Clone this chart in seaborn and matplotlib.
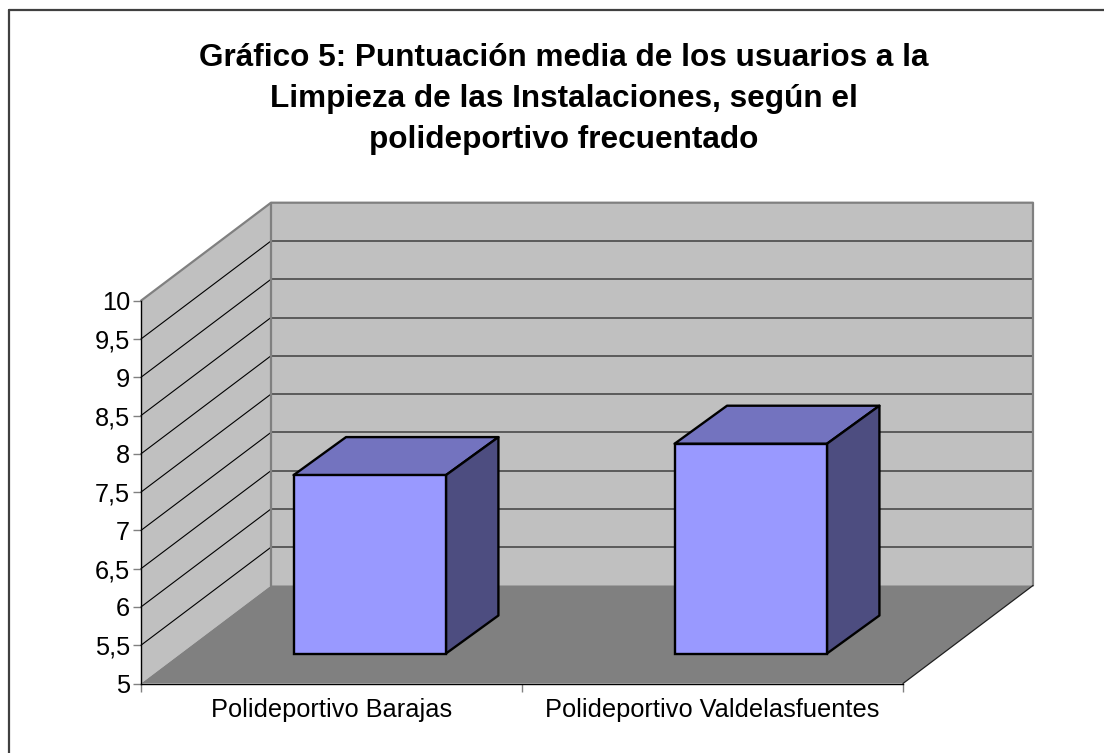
import matplotlib
matplotlib.use("Agg")
import matplotlib.pyplot as plt
from matplotlib.lines import Line2D
from matplotlib.patches import Polygon
from matplotlib.transforms import IdentityTransform, ScaledTranslation
import pandas as pd
import seaborn as sns

categories = ["Polideportivo Barajas", "Polideportivo Valdelasfuentes"]
scores = [7.33, 7.74]
y_ticks = [5, 5.5, 6, 6.5, 7, 7.5, 8, 8.5, 9, 9.5, 10]
y_labels = ["5", "5,5", "6", "6,5", "7", "7,5", "8", "8,5", "9", "9,5", "10"]
title = ("Gráfico 5: Puntuación media de los usuarios a la\n"
         "Limpieza de las Instalaciones, según el\n"
         "polideportivo frecuentado")

W, H = 1104, 753
DEPTH_X, DEPTH_Y = 130, 98  # px, how far the back wall sits from the front plane
BAR_FRONT, BAR_BACK = 0.306, 0.694  # bar position inside the depth
NUDGE = -1.5  # px, bars sit a little left of the exact centre
BACK_NUDGE = 0.5  # px, back edge of the box runs slightly further right


def main():
    sns.set_theme(style="white")
    plt.rcParams["font.family"] = ["Liberation Sans", "DejaVu Sans"]

    fig = plt.figure(figsize=(W / 100, H / 100), dpi=100)
    ax = fig.add_axes([141 / W, (H - 683.5) / H, 762 / W, 382.8 / H])
    ax.patch.set_alpha(0)

    df = pd.DataFrame({"polideportivo": categories, "score": scores})
    sns.barplot(data=df, x="polideportivo", y="score", color="#9999FF", saturation=1,
                width=0.4, edgecolor="black", linewidth=1.7, ax=ax, zorder=6)
    ax.set_xlim(-0.5, 1.5)
    ax.set_ylim(y_ticks[0], y_ticks[-1])

    # display coords of a data point pushed back by a fraction of the depth
    def px(x, y, depth=0.0, nudge=0.0):
        dx, dy = ax.transData.transform((x, y))
        return dx + depth * DEPTH_X + nudge, dy + depth * DEPTH_Y

    def poly(points, color, z, **kw):
        kw.setdefault("edgecolor", "none")
        ax.add_patch(Polygon(points, closed=True, facecolor=color, transform=IdentityTransform(),
                             clip_on=False, zorder=z, **kw))

    def line(points, color, lw, z):
        xs, ys = zip(*points)
        ax.add_line(Line2D(xs, ys, color=color, lw=lw, transform=IdentityTransform(),
                           clip_on=False, zorder=z))

    x0, x1 = ax.get_xlim()
    y0, y1 = ax.get_ylim()

    # walls and floor
    poly([px(x0, y0), px(x0, y1), px(x0, y1, 1), px(x0, y0, 1)], "#C0C0C0", 1)
    poly([px(x0, y0, 1), px(x0, y1, 1), px(x1, y1, 1), px(x1, y0, 1)], "#C0C0C0", 1)
    poly([px(x0, y0), px(x1, y0), px(x1, y0, 1), px(x0, y0, 1)], "#808080", 2)

    for t in y_ticks[1:-1]:
        line([px(x0, t), px(x0, t, 1)], "#000000", 0.8, 3)
        line([px(x0, t, 1), px(x1, t, 1)], "#404040", 1.1, 3)
    line([px(x0, y1), px(x0, y1, 1), px(x1, y1, 1), px(x1, y0, 1)], "#808080", 1.6, 4)
    line([px(x0, y1, 1), px(x0, y0, 1)], "#808080", 1.6, 4)
    line([px(x1, y0), px(x1, y0, 1)], "#202020", 0.9, 4)

    # seaborn draws the front faces, push them onto the floor and add the box sides
    shift = ScaledTranslation((BAR_FRONT * DEPTH_X + NUDGE) / 100, BAR_FRONT * DEPTH_Y / 100,
                              fig.dpi_scale_trans)
    back = NUDGE + BACK_NUDGE + 1.5
    for bar, value in zip(ax.patches[:len(scores)], scores):
        bar.set_y(y0)
        bar.set_height(value - y0)
        bar.set_transform(ax.transData + shift)
        bar.set_clip_on(False)
        left, right = bar.get_x(), bar.get_x() + bar.get_width()
        poly([px(left, value, BAR_FRONT, NUDGE), px(right, value, BAR_FRONT, NUDGE),
              px(right, value, BAR_BACK, back), px(left, value, BAR_BACK, back)],
             "#7373BF", 5, edgecolor="black", linewidth=1.7, joinstyle="round")
        poly([px(right, y0, BAR_FRONT, NUDGE), px(right, value, BAR_FRONT, NUDGE),
              px(right, value, BAR_BACK, back), px(right, y0, BAR_BACK, back)],
             "#4D4D80", 5, edgecolor="black", linewidth=1.7, joinstyle="round")

    # axes
    for side in ["top", "right"]:
        ax.spines[side].set_visible(False)
    for side in ["left", "bottom"]:
        ax.spines[side].set_color("#000000")
        ax.spines[side].set_linewidth(1.0)
        ax.spines[side].set_zorder(4)
    ax.set_xlabel("")
    ax.set_ylabel("")
    ax.set_yticks(y_ticks, y_labels)
    ax.set_xticks([0, 1], categories)
    ax.set_xticks([x0, 0.5, x1], minor=True)
    ax.tick_params(axis="y", which="major", left=True, length=6, width=1, color="#808080",
                   labelsize=18.3, labelcolor="black", pad=2)
    ax.tick_params(axis="x", which="major", bottom=False, labelsize=18.3, labelcolor="black", pad=4.5)
    ax.tick_params(axis="x", which="minor", bottom=True, length=6, width=1, color="#808080")

    fig.text(564 / W, 1 - 99 / H, title, ha="center", va="center", fontsize=22.7,
             fontweight="bold", color="black", linespacing=1.49)

    # chart frame, only left and top fall inside the picture
    fig.add_artist(Line2D([9 / W, 9 / W], [0, 1 - 10 / H], color="#404040", lw=1.6))
    fig.add_artist(Line2D([9 / W, 1], [1 - 10 / H, 1 - 10 / H], color="#404040", lw=1.6))

    fig.savefig("out.png", dpi=100, facecolor="white")
    plt.close(fig)


if __name__ == "__main__":
    main()
